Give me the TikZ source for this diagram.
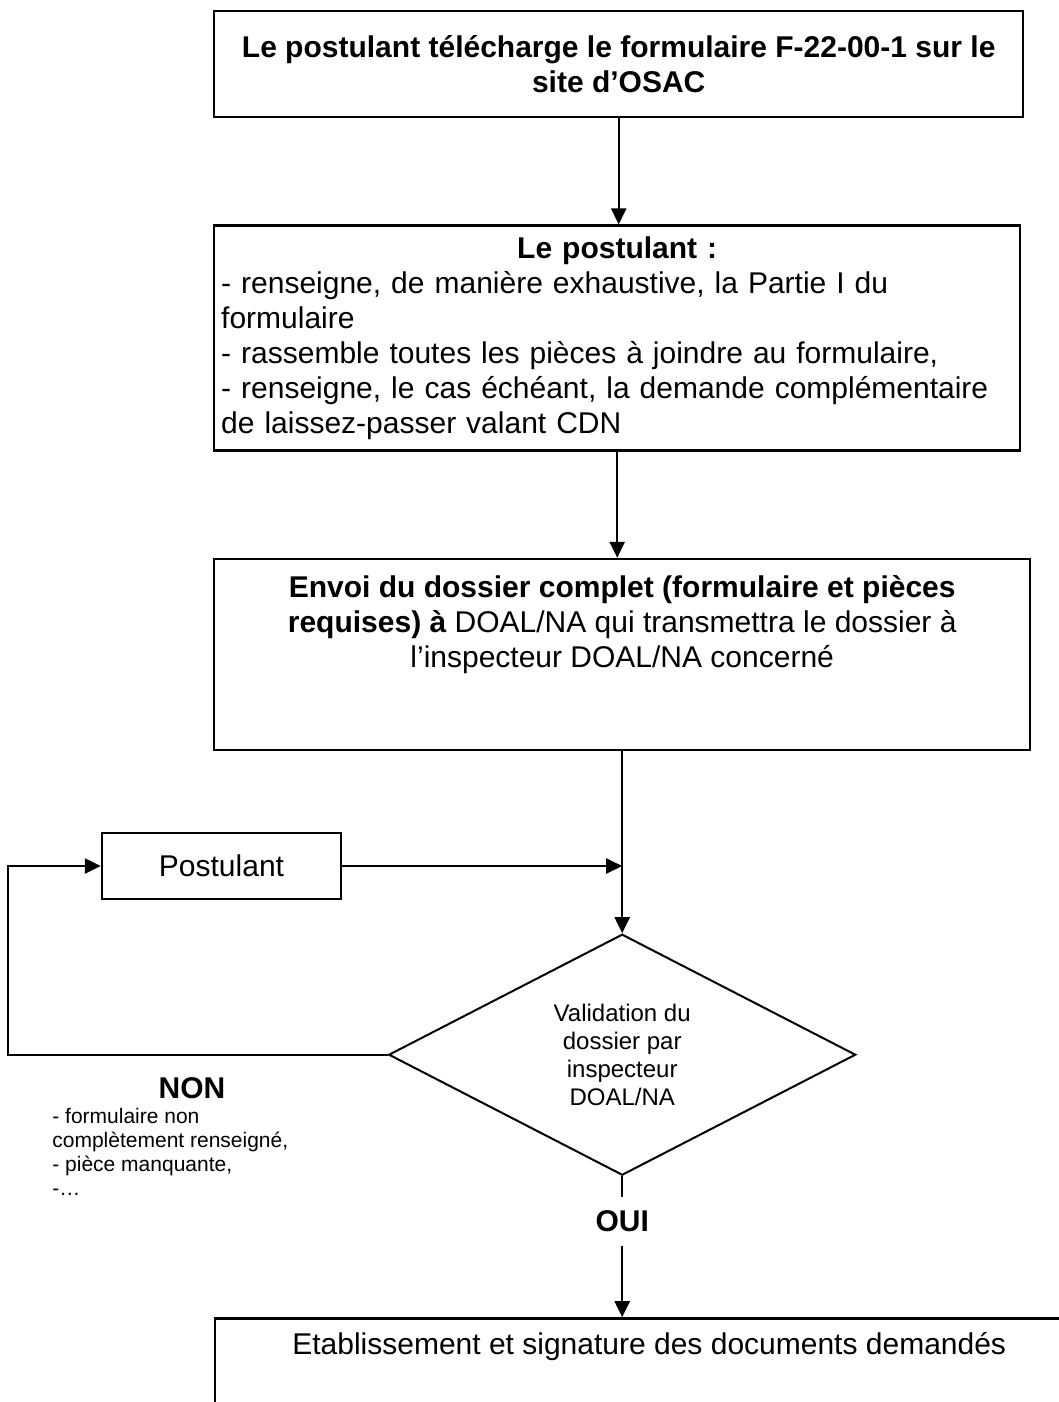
\documentclass[tikz,border=0pt]{standalone}
\usepackage{fontspec}
\setmainfont{Liberation Sans}
\usetikzlibrary{arrows.meta,positioning,shapes.geometric}
\newcommand{\bodysize}{\fontsize{15}{17.5}\selectfont}
\newcommand{\smallsize}{\fontsize{12}{14}\selectfont}
\newcommand{\notesize}{\fontsize{10.5}{12}\selectfont}
\setlength{\parindent}{0pt}

\begin{document}
\begin{tikzpicture}[
  x=0.5pt, y=-0.5pt,
  node distance=53pt,
  box/.style={draw,line width=1.2pt,inner sep=3.5pt,align=center,font=\bodysize},
  decision/.style={diamond,draw,line width=1pt,aspect=2,inner sep=0pt,minimum width=233.5pt,minimum height=120.5pt,align=center,font=\smallsize},
  note/.style={align=left,inner sep=0pt,font=\notesize},
  arrow/.style={-{Triangle[length=8pt,width=7.5pt]},line width=1.2pt}
]
\useasboundingbox (0,0) rectangle (1059,1402);
\clip (0,0) rectangle (1059,1402);

\node[box,font=\bodysize\bfseries,minimum width=404.5pt,minimum height=53pt,anchor=north west] (title) at (213,10) {Le postulant télécharge le formulaire F-22-00-1 sur le\\site d’OSAC};
\node[box,align=left,text width=396pt,minimum height=112.5pt,below=53pt of title.south west,anchor=north west] (steps) {{\centering\bfseries Le postulant :\par}- renseigne, de manière exhaustive, la Partie I du\\formulaire\\- rassemble toutes les pièces à joindre au formulaire,\\- renseigne, le cas échéant, la demande complémentaire\\de laissez-passer valant CDN};
\node[box,minimum width=408pt,inner ysep=8pt,below=53pt of steps.south west,anchor=north west] (send) {\textbf{Envoi du dossier complet (formulaire et pièces}\\\textbf{requises) à} DOAL/NA qui transmettra le dossier à\\l’inspecteur DOAL/NA concerné\rule[-33.5pt]{0pt}{0pt}};
\node[decision,below=91pt of send] (check) {Validation du\\dossier par\\inspecteur\\DOAL/NA};
\node[box,minimum width=119.5pt,minimum height=33pt] (applicant) at (221.5,866) {Postulant};
\node[box,minimum width=434pt,inner ysep=7pt,below=70.5pt of check.south,anchor=north,xshift=13.5pt] (done) {Etablissement et signature des documents demandés\rule[-60pt]{0pt}{0pt}};

% motifs du refus
\node[font=\bodysize\bfseries,inner sep=0pt] (non) at (192,1088) {NON};
\node[note,anchor=north west] (reasons) at (52,1108) {- formulaire non\\complètement renseigné,\\- pièce manquante,\\-…};

\draw[arrow] (title) -- (title |- steps.north);
\draw[arrow] (steps) -- (steps |- send.north);
\draw[arrow] (send.south) -- (check.north);
\draw[arrow] (applicant.east) -- (applicant.east -| send.south);
\draw[arrow] (check.west) -| ([xshift=-46.5pt]applicant.west) -- (applicant.west);
\draw[arrow] (check.south) -- node[pos=0.32,fill=white,inner xsep=2pt,inner ysep=7pt,font=\bodysize\bfseries] (oui) {OUI} (check.south |- done.north);
\end{tikzpicture}
\end{document}
